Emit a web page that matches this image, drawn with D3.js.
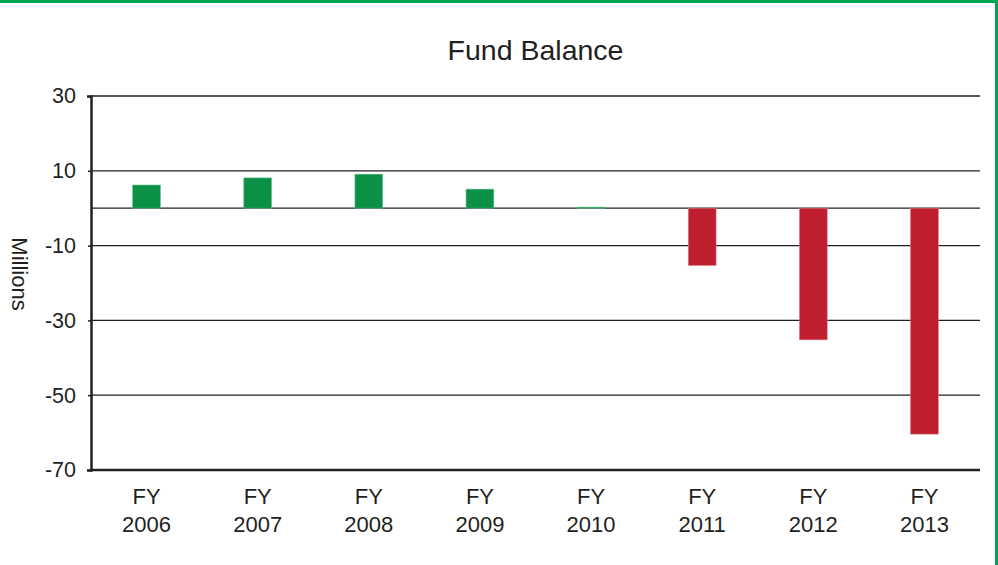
<!DOCTYPE html>
<html>
<head>
<meta charset="utf-8">
<script src="https://cdn.jsdelivr.net/npm/d3@7"></script>
<style>
  body { margin: 0; background: #fff; }
  svg { display: block; font-family: 'Liberation Sans', Arial, sans-serif; }
</style>
</head>
<body>
<div id="chart"></div>
<script>
const categories = ['FY 2006', 'FY 2007', 'FY 2008', 'FY 2009', 'FY 2010', 'FY 2011', 'FY 2012', 'FY 2013'];
const values = [6.2, 8.1, 9.1, 5.1, 0.3, -15.3, -35.2, -60.4];
const yTicks = [30, 10, -10, -30, -50, -70];

const W = 998, H = 565;
const margin = { top: 96, right: 18, bottom: 95, left: 91 },
      width = W - margin.left - margin.right,
      height = H - margin.top - margin.bottom;

const root = d3.select('#chart').append('svg')
  .attr('width', W)
  .attr('height', H);

// green frame (top and right edges)
root.append('rect').attr('x', 0).attr('y', 0).attr('width', W).attr('height', 3).attr('fill', '#00a651');
root.append('rect').attr('x', W - 3).attr('y', 0).attr('width', 3).attr('height', H).attr('fill', '#00a651');

root.append('text')
  .attr('x', margin.left + width / 2)
  .attr('y', 60)
  .attr('text-anchor', 'middle')
  .attr('font-size', 28.5)
  .attr('fill', '#231f20')
  .text('Fund Balance');

root.append('text')
  .attr('transform', 'translate(12,274) rotate(90)')
  .attr('text-anchor', 'middle')
  .attr('font-size', 22)
  .attr('fill', '#231f20')
  .text('Millions');

const svg = root.append('g')
  .attr('transform', 'translate(' + margin.left + ',' + margin.top + ')');

const x = d3.scaleBand()
  .domain(categories)
  .range([0, width])
  .paddingInner(0.75)
  .paddingOuter(0.375);

const y = d3.scaleLinear()
  .domain([-70, 30])
  .range([height, 0]);

// gridlines, including zero line
svg.append('g')
  .selectAll('line')
  .data(yTicks.filter(d => d !== -70).concat([0]))
  .join('line')
    .attr('x1', 0)
    .attr('x2', width)
    .attr('y1', d => y(d))
    .attr('y2', d => y(d))
    .attr('stroke', '#231f20')
    .attr('stroke-width', d => d === 30 ? 1.6 : 1.3);

svg.selectAll('.bar')
  .data(values)
  .join('rect')
    .attr('class', 'bar')
    .attr('x', (d, i) => x(categories[i]))
    .attr('width', x.bandwidth())
    .attr('y', d => y(Math.max(0, d)))
    .attr('height', d => Math.max(1, Math.abs(y(d) - y(0))))
    .attr('fill', d => d >= 0 ? '#0a9146' : '#be1e2d')
    .attr('stroke', d => d >= 0 ? '#6cc48f' : '#e07a84')
    .attr('stroke-width', 0.6);

// y axis
const yAxis = svg.append('g')
  .call(d3.axisLeft(y).tickValues(yTicks).tickSize(4).tickPadding(11)
    .tickFormat(d => String(d)));
yAxis.select('.domain').attr('stroke', '#231f20').attr('stroke-width', 2.5);
yAxis.selectAll('.tick line').attr('stroke', '#231f20').attr('stroke-width', 1.5)
  .attr('x1', 0).attr('x2', -3);
yAxis.selectAll('.tick text')
  .attr('font-size', 21.5)
  .attr('fill', '#231f20')
  .attr('font-family', "'Liberation Sans', Arial, sans-serif");

// baseline at -70
svg.append('line')
  .attr('x1', -1).attr('x2', width)
  .attr('y1', height).attr('y2', height)
  .attr('stroke', '#231f20')
  .attr('stroke-width', 2.5);

// category labels on two lines
const lab = svg.append('g')
  .selectAll('text')
  .data(categories)
  .join('text')
    .attr('x', d => x(d) + x.bandwidth() / 2)
    .attr('y', height + 34)
    .attr('text-anchor', 'middle')
    .attr('font-size', 22)
    .attr('fill', '#231f20');
lab.append('tspan').attr('x', d => x(d) + x.bandwidth() / 2).text(d => d.split(' ')[0]);
lab.append('tspan').attr('x', d => x(d) + x.bandwidth() / 2).attr('dy', 28).text(d => d.split(' ')[1]);
</script>
</body>
</html>
